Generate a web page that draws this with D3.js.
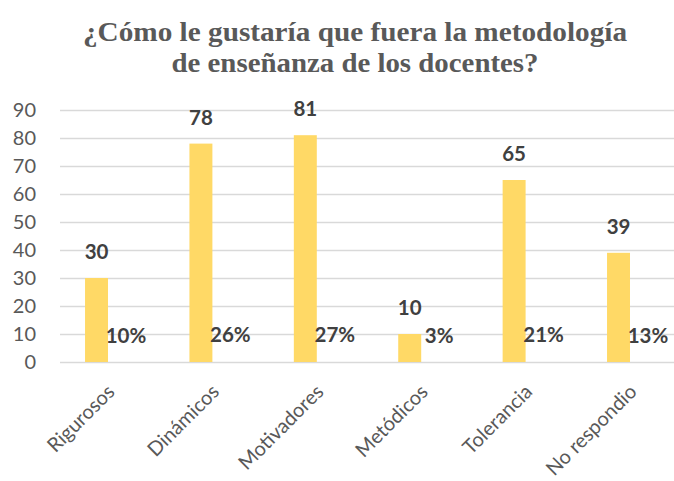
<!DOCTYPE html>
<html lang="es">
<head>
<meta charset="utf-8">
<script src="https://cdn.jsdelivr.net/npm/d3@7/dist/d3.min.js"></script>
<style>
  html, body { margin: 0; padding: 0; background: #ffffff; }
  svg { display: block; }
</style>
</head>
<body>
<svg id="chart" width="674" height="481"></svg>
<script>
// Respuestas por tipo de metodología
const categories = ["Rigurosos", "Dinámicos", "Motivadores", "Metódicos", "Tolerancia", "No respondio"];
const counts = [30, 78, 81, 10, 65, 39];
const shares = [0.10, 0.26, 0.27, 0.03, 0.21, 0.13];
const yTicks = [0, 10, 20, 30, 40, 50, 60, 70, 80, 90];
const titleLines = ["¿Cómo le gustaría que fuera la metodología", "de enseñanza de los docentes?"];

const svg = d3.select("#chart");
const plotLeft = 60, plotRight = 674;

const x = d3.scaleBand().domain(categories).range([55.8, 682.2]).padding(0);
const y = d3.scaleLinear().domain([0, 90]).range([362, 110]);
const barW = x.bandwidth() * 0.22;
const center = c => x(c) + x.bandwidth() / 2;

// Título
const title = svg.append("g");
const titleBase = [41, 72];
const titleLen = [544, 367];
titleLines.forEach((t, i) => {
  title.append("text")
    .attr("x", 355)
    .attr("y", titleBase[i])
    .attr("text-anchor", "middle")
    .attr("textLength", titleLen[i])
    .attr("lengthAdjust", "spacingAndGlyphs")
    .style("font-family", "'Liberation Serif', 'DejaVu Serif', serif")
    .style("font-weight", "bold")
    .style("font-size", "28px")
    .style("fill", "#595959")
    .text(t);
});

// Eje Y con líneas de cuadrícula
const yAxis = svg.append("g")
  .attr("transform", `translate(${plotLeft},0)`)
  .call(d3.axisLeft(y).tickValues(yTicks).tickSize(-(plotRight - plotLeft)).tickPadding(24));
yAxis.select(".domain").remove();
yAxis.selectAll(".tick line").attr("stroke", "#d9d9d9").attr("stroke-width", 1.5);
yAxis.selectAll(".tick text")
  .style("font-family", "Lato, 'Open Sans', sans-serif")
  .style("font-size", "20px")
  .style("fill", "#595959");

// Barras
svg.append("g").selectAll("rect")
  .data(categories)
  .join("rect")
  .attr("x", c => center(c) - barW)
  .attr("width", barW)
  .attr("y", (c, i) => y(counts[i]))
  .attr("height", (c, i) => y(0) - y(counts[i]))
  .attr("fill", "#ffd966");

// Valores sobre las barras
svg.append("g").selectAll("text")
  .data(categories)
  .join("text")
  .attr("x", c => center(c) - barW / 2)
  .attr("y", (c, i) => y(counts[i]) - 19)
  .attr("text-anchor", "middle")
  .style("font-family", "Lato, 'Open Sans', sans-serif")
  .style("font-weight", "bold")
  .style("font-size", "20.5px")
  .style("fill", "#404040")
  .text((c, i) => counts[i]);

// Porcentajes
const pct = d3.format(".0%");
svg.append("g").selectAll("text")
  .data(categories)
  .join("text")
  .attr("x", c => center(c) + 18)
  .attr("y", (c, i) => y(shares[i]) - 19)
  .attr("text-anchor", "middle")
  .style("font-family", "Lato, 'Open Sans', sans-serif")
  .style("font-weight", "bold")
  .style("font-size", "20.5px")
  .style("fill", "#404040")
  .text((c, i) => pct(shares[i]));

// Eje X con etiquetas inclinadas
const xAxis = svg.append("g")
  .attr("transform", `translate(0,${y(0)})`)
  .call(d3.axisBottom(x).tickSize(0));
xAxis.select(".domain").remove();
xAxis.selectAll(".tick text")
  .attr("x", 0)
  .attr("y", 0)
  .attr("dy", null)
  .attr("text-anchor", "end")
  .attr("transform", "translate(8,31) rotate(-45)")
  .style("font-family", "Lato, 'Open Sans', sans-serif")
  .style("font-size", "20px")
  .style("fill", "#595959");
</script>
</body>
</html>
